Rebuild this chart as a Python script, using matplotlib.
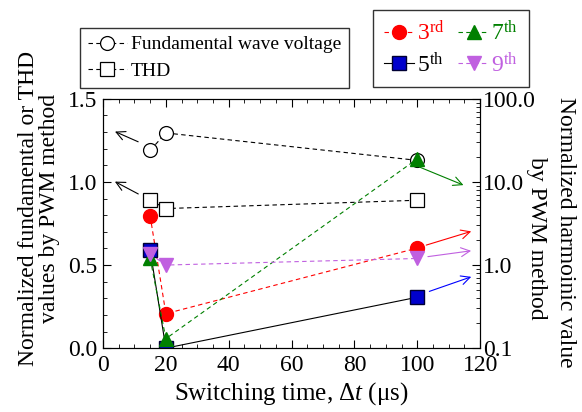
import numpy as np
import matplotlib.pyplot as plt
from matplotlib.ticker import MultipleLocator, FixedLocator, FixedFormatter, LogLocator, NullFormatter

plt.rcParams['font.family'] = 'Liberation Serif'
plt.rcParams['mathtext.fontset'] = 'custom'
plt.rcParams['mathtext.rm'] = 'Liberation Serif'
plt.rcParams['mathtext.it'] = 'Liberation Serif:italic'

# switching time (us)
dt = [15, 20, 100]

# left axis: normalized fundamental voltage and THD
fund = [1.19, 1.295, 1.13]
thd = [0.89, 0.84, 0.89]

# right axis: normalized harmonics (log scale)
h3 = [3.9, 0.26, 1.6]
h5 = [1.5, 0.1, 0.41]
h7 = [1.2, 0.13, 19.0]
h9 = [1.36, 1.0, 1.2]

fs = 17
violet = '#c060e0'

fig = plt.figure(figsize=(5.82, 4.12), dpi=100)
ax = fig.add_axes([0.177, 0.155, 0.648, 0.605])
ax2 = ax.twinx()

l_f, = ax.plot(dt, fund, ls='--', color='black', lw=0.8, marker='o', ms=10,
               mfc='white', mec='black', mew=0.9, dashes=(4, 3),
               label='Fundamental wave voltage')
l_t, = ax.plot(dt, thd, ls='--', color='black', lw=0.8, marker='s', ms=10,
               mfc='white', mec='black', mew=0.9, dashes=(4, 3), label='THD')

l3, = ax2.plot(dt, h3, ls='--', color='red', lw=0.8, marker='o', ms=10,
               mfc='red', mec='red', dashes=(4, 3), label='3$^{\\rm rd}$')
l5, = ax2.plot(dt, h5, ls='-', color='black', lw=0.8, marker='s', ms=10,
               mfc='#0000cc', mec='#000033', mew=1.0, label='5$^{\\rm th}$')
l7, = ax2.plot(dt, h7, ls='--', color='green', lw=0.8, marker='^', ms=10,
               mfc='green', mec='green', dashes=(4, 3), label='7$^{\\rm th}$')
l9, = ax2.plot(dt, h9, ls='--', color=violet, lw=0.8, marker='v', ms=10,
               mfc=violet, mec=violet, dashes=(4, 3), label='9$^{\\rm th}$')

# arrows pointing to the axis each series belongs to
arr = dict(arrowstyle='->', lw=0.8, mutation_scale=16)
ax.annotate('', xy=(3, 1.31), xytext=(12, 1.235), arrowprops=dict(color='black', **arr))
ax.annotate('', xy=(3, 1.01), xytext=(12, 0.92), arrowprops=dict(color='black', **arr))
ax2.annotate('', xy=(115.5, 8.9), xytext=(100, 15.5), arrowprops=dict(color='green', **arr))
ax2.annotate('', xy=(118, 2.6), xytext=(102, 1.7), arrowprops=dict(color='red', **arr))
ax2.annotate('', xy=(118, 1.5), xytext=(102.5, 1.25), arrowprops=dict(color=violet, **arr))
ax2.annotate('', xy=(118, 0.74), xytext=(103, 0.47), arrowprops=dict(color='blue', **arr))

ax.set_xlim(0, 120)
ax.set_ylim(0, 1.5)
ax.xaxis.set_major_locator(MultipleLocator(20))
ax.xaxis.set_minor_locator(MultipleLocator(5))
ax.yaxis.set_major_locator(MultipleLocator(0.5))
ax.yaxis.set_minor_locator(MultipleLocator(0.1))
ax.yaxis.set_major_formatter(plt.FormatStrFormatter('%.1f'))
ax.tick_params(which='both', direction='in', top=True, labelsize=fs)
ax.tick_params(which='major', length=6)
ax.tick_params(which='minor', length=3)
ax.tick_params(axis='x', pad=5)
ax.tick_params(axis='y', pad=4)

ax2.set_yscale('log')
ax2.set_ylim(0.1, 100)
ax2.yaxis.set_major_locator(FixedLocator([0.1, 1, 10, 100]))
ax2.yaxis.set_major_formatter(FixedFormatter(['0.1', '1.0', '10.0', '100.0']))
ax2.yaxis.set_minor_locator(LogLocator(base=10, subs=np.arange(2, 10)))
ax2.yaxis.set_minor_formatter(NullFormatter())
ax2.tick_params(which='both', direction='in', labelsize=fs, pad=2)
ax2.tick_params(which='major', length=6)
ax2.tick_params(which='minor', length=3)

ax.set_xlabel('Switching time, Δ$\\it{t}$ (μs)', fontsize=18, labelpad=3)
fig.text(39 / 582, 1 - 208 / 412, 'Normalized fundamental or THD\nvalues by PWM method',
         fontsize=fs, rotation=90, ha='center', va='center', multialignment='center',
         linespacing=0.95)
fig.text(566 / 582, 1 - 232 / 412, 'Normalized harmoinic value',
         fontsize=fs, rotation=270, ha='center', va='center')
fig.text(537 / 582, 1 - 238 / 412, 'by PWM method',
         fontsize=fs, rotation=270, ha='center', va='center')

leg1 = fig.legend(handles=[l_f, l_t], loc='upper left', bbox_to_anchor=(80 / 582, 1 - 28 / 412),
                  fontsize=14, frameon=True, fancybox=False, edgecolor='black',
                  handlelength=2.0, handletextpad=0.2, borderpad=0.4, labelspacing=0.45,
                  borderaxespad=0)
leg1.get_frame().set_linewidth(1.0)

leg2 = fig.legend(handles=[l3, l5, l7, l9], loc='upper left', bbox_to_anchor=(373 / 582, 1 - 10 / 412),
                  ncol=2, fontsize=17, frameon=True, fancybox=False, edgecolor='black',
                  handlelength=1.3, handletextpad=0.1, borderpad=0.45, labelspacing=0.3,
                  columnspacing=0.6, borderaxespad=0)
leg2.get_frame().set_linewidth(1.0)
for txt, c in zip(leg2.get_texts(), ['red', 'black', 'green', violet]):
    txt.set_color(c)

fig.savefig('out.png', dpi=100)
